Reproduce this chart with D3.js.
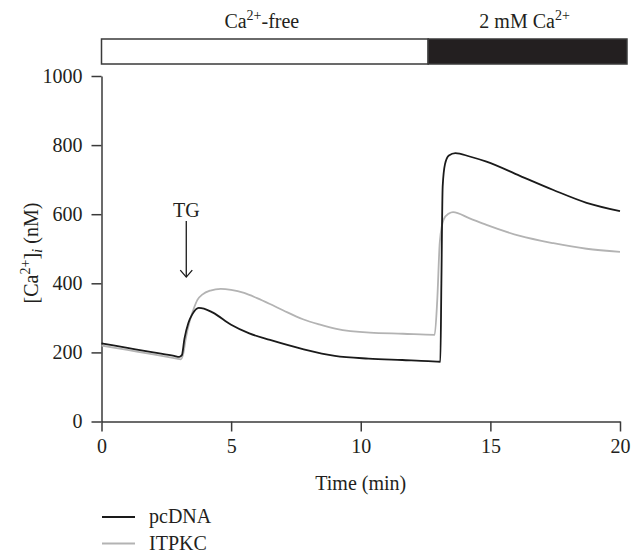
<!DOCTYPE html>
<html>
<head>
<meta charset="utf-8">
<script src="https://cdn.jsdelivr.net/npm/d3@7"></script>
<style>
  html, body { margin: 0; padding: 0; background: #fff; }
  svg { display: block; }
  text { font-family: "Liberation Serif", "DejaVu Serif", serif; fill: #231f20; }
</style>
</head>
<body>
<svg id="chart" width="639" height="552"></svg>
<script>
// ---- data ----
const seriesNames = ["pcDNA", "ITPKC"];
const seriesColors = ["#1a1a1a", "#b3b3b3"];

const pcdnaTime  = [0, 1, 2, 2.8, 3.0, 3.1, 3.2, 3.35, 3.5, 3.75, 3.95, 4.3, 5.0, 5.7, 6.5, 7.8, 9.0, 10.3, 11.6, 12.6, 13.07, 13.11, 13.16, 13.25, 13.4, 13.65, 14.2, 14.85, 16.14, 17.43, 18.71, 20.0];
const pcdnaValue = [226, 213, 200, 190, 187, 192, 240, 285, 310, 329, 327, 315, 280, 255, 236, 209, 190, 182, 178, 175, 173, 400, 680, 745, 770, 777, 767, 752, 711, 670, 633, 609];

const itpkcTime  = [0, 1, 2, 2.9, 3.05, 3.15, 3.25, 3.4, 3.55, 3.7, 3.9, 4.2, 4.6, 5.0, 5.5, 6.0, 6.5, 7.0, 7.77, 8.4, 9.06, 10.35, 11.63, 12.85, 12.95, 13.05, 13.2, 13.4, 13.56, 14.2, 14.85, 16.14, 17.43, 18.71, 20.0];
const itpkcValue = [220, 207, 194, 182, 180, 195, 240, 290, 325, 352, 368, 379, 384, 381, 372, 357, 340, 322, 296, 281, 268, 257, 254, 251, 350, 520, 585, 602, 606, 588, 569, 537, 516, 500, 491];

const xTicks = [0, 5, 10, 15, 20];
const yTicks = [0, 200, 400, 600, 800, 1000];

const conditionLabels = ["Ca²⁺-free", "2 mM Ca²⁺"];
const conditionStart = [0, 12.6];
const conditionEnd = [12.6, 20.27];

const annotationLabel = "TG";
const annotationTime = 3.27;
const annotationFrom = 580;
const annotationTo = 418;

// ---- layout ----
const svg = d3.select("#chart");
const x = d3.scaleLinear().domain([0, 20]).range([101.5, 620]);
const y = d3.scaleLinear().domain([0, 1000]).range([421.5, 76]);
const FS = 20;

// axes
const xAxis = svg.append("g").attr("transform", `translate(0,${y(0)})`)
  .call(d3.axisBottom(x).tickValues(xTicks).tickSize(10).tickSizeOuter(0).tickPadding(7));
const yAxis = svg.append("g").attr("transform", `translate(${x(0)},0)`)
  .call(d3.axisLeft(y).tickValues(yTicks).tickFormat(d3.format("d")).tickSize(10).tickSizeOuter(0).tickPadding(9));
[xAxis, yAxis].forEach(g => {
  g.selectAll("path.domain").attr("stroke", "#3a3a3a").attr("stroke-width", 1.5);
  g.selectAll(".tick line").attr("stroke", "#3a3a3a").attr("stroke-width", 1.5);
  g.selectAll(".tick text").attr("font-family", "Liberation Serif").attr("font-size", FS).attr("fill", "#231f20");
});

// condition bar
const barTop = 39, barH = 25;
conditionLabels.forEach((lab, i) => {
  svg.append("rect")
    .attr("x", x(conditionStart[i])).attr("y", barTop)
    .attr("width", x(conditionEnd[i]) - x(conditionStart[i])).attr("height", barH)
    .attr("fill", i === 0 ? "#ffffff" : "#231f20")
    .attr("stroke", "#3a3a3a").attr("stroke-width", 1.5);
  const parts = lab.split("Ca²⁺");
  const t = svg.append("text")
    .attr("x", (x(conditionStart[i]) + x(conditionEnd[i])) / 2 - 3)
    .attr("y", 28).attr("text-anchor", "middle").attr("font-size", FS);
  t.append("tspan").text(parts[0] + "Ca");
  t.append("tspan").attr("dy", -8).attr("font-size", 14).text("2+");
  if (parts[1]) t.append("tspan").attr("dy", 8).text(parts[1]);
});

// lines
const line = d3.line().x(d => x(d[0])).y(d => y(d[1])).curve(d3.curveMonotoneX);
const series = [
  d3.zip(itpkcTime, itpkcValue),
  d3.zip(pcdnaTime, pcdnaValue)
];
const order = [1, 0];
series.forEach((s, i) => {
  svg.append("path").datum(s)
    .attr("d", line).attr("fill", "none")
    .attr("stroke", seriesColors[order[i]]).attr("stroke-width", 1.8)
    .attr("stroke-linejoin", "round");
});

// TG annotation
const ax = x(annotationTime);
svg.append("text").attr("x", ax).attr("y", y(annotationFrom) - 4)
  .attr("text-anchor", "middle").attr("font-size", FS).text(annotationLabel);
svg.append("line").attr("x1", ax).attr("x2", ax)
  .attr("y1", y(annotationFrom)).attr("y2", y(annotationTo))
  .attr("stroke", "#1a1a1a").attr("stroke-width", 1.3);
svg.append("path")
  .attr("d", `M${ax - 6},${y(annotationTo) - 7} L${ax},${y(annotationTo)} L${ax + 6},${y(annotationTo) - 7}`)
  .attr("fill", "none").attr("stroke", "#1a1a1a").attr("stroke-width", 1.3);

// axis titles
svg.append("text").attr("x", x(10)).attr("y", 490)
  .attr("text-anchor", "middle").attr("font-size", FS).text("Time (min)");

const yl = svg.append("text")
  .attr("transform", `translate(38,253) rotate(-90)`)
  .attr("text-anchor", "middle").attr("font-size", FS);
yl.append("tspan").text("[Ca");
yl.append("tspan").attr("dy", -8).attr("font-size", 14).text("2+");
yl.append("tspan").attr("dy", 8).text("]");
yl.append("tspan").attr("dy", 4).attr("font-size", 15).attr("font-style", "italic").text("i");
yl.append("tspan").attr("dy", -4).text(" (nM)");

// legend
seriesNames.forEach((name, i) => {
  const ly = 517 + i * 26.5;
  svg.append("line").attr("x1", 102).attr("x2", 135).attr("y1", ly).attr("y2", ly)
    .attr("stroke", seriesColors[i]).attr("stroke-width", 1.8);
  svg.append("text").attr("x", 149).attr("y", ly + 6).attr("font-size", FS).text(name);
});
</script>
</body>
</html>
